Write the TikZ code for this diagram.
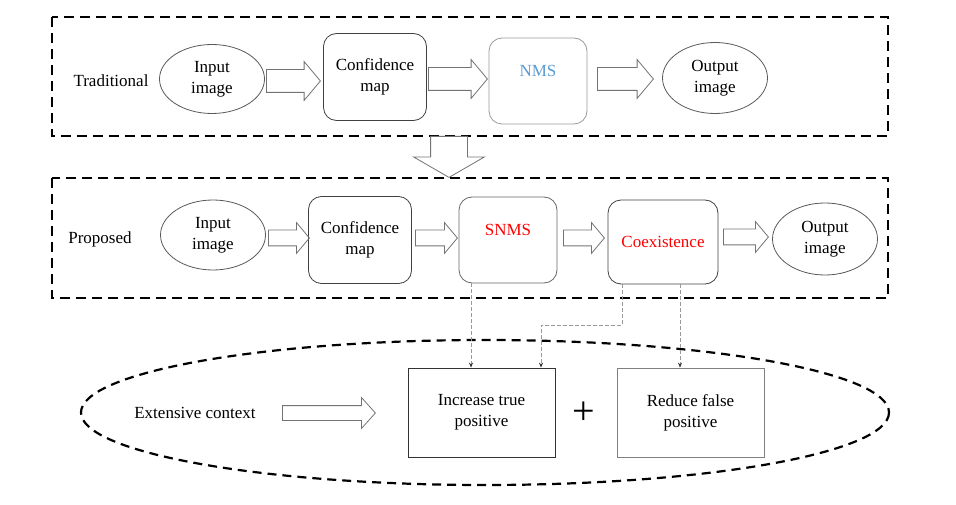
\documentclass[tikz,border=0pt]{standalone}
\usepackage{fontspec}
\setmainfont{Liberation Serif}
\usetikzlibrary{shapes.geometric,shapes.arrows,arrows.meta}

\definecolor{nmsblue}{RGB}{91,155,213}

\tikzset{
	oval/.style={ellipse,draw=black!65,line width=0.8pt,minimum width=105pt,minimum height=69pt,inner sep=0pt,align=center},
	rbox/.style={rectangle,rounded corners=13pt,draw=black!75,line width=0.8pt,minimum width=103pt,minimum height=87pt,inner sep=0pt,align=center},
	sbox/.style={rectangle,draw=black!80,line width=0.8pt,minimum width=147pt,minimum height=89pt,inner sep=0pt,align=center},
	fatarrow/.style={single arrow,draw=black!55,line width=0.8pt,inner xsep=0pt,single arrow tip angle=100,anchor=tail},
	toparrow/.style={fatarrow,inner ysep=11pt,single arrow head extend=8pt},
	midarrow/.style={fatarrow,inner ysep=7.5pt,single arrow head extend=7.5pt},
	frame/.style={draw,line width=2.6pt,dash pattern=on 10pt off 6pt},
	ring/.style={draw,line width=2.2pt,dash pattern=on 9pt off 6pt},
	link/.style={draw=black!40,line width=0.8pt,dash pattern=on 4pt off 2pt,-{Stealth[length=5pt,width=4pt,black!80]}}
}

\begin{document}
\begin{tikzpicture}[x=1pt,y=-1pt,font=\fontsize{17}{21}\selectfont]
	
	\useasboundingbox (0,0) rectangle (956,505);
	
	%%Frames
	\draw[frame] (52,17) rectangle (888,136);
	\draw[frame] (52,178) rectangle (888,298);
	\draw[ring] (485,412.5) ellipse [x radius=404, y radius=72.5];
	
	%%Traditional row
	\node (trad) at (111,81) {Traditional};
	\node[oval] (tin) at (212,79) {Input\\image};
	\node[rbox] (tconf) at (375,77) {Confidence\\map};
	\node[rbox,draw=black!40,minimum width=98pt,minimum height=86pt,text=nmsblue] (nms) at (538,81) {NMS\\~};
	\node[oval,minimum height=71pt] (tout) at (715,78) {Output\\image};
	
	\node[toparrow,minimum height=54pt] (ta1) at (266,81) {};
	\node[toparrow,minimum height=59pt] (ta2) at (428,79) {};
	\node[toparrow,minimum height=56pt] (ta3) at (597,79) {};
	
	%%Down arrow
	\node[fatarrow,shape border rotate=270,minimum height=41pt,inner xsep=18pt,inner ysep=0pt,single arrow head extend=17pt,single arrow tip angle=120] (down) at (449,136) {};
	
	%%Proposed row
	\node (prop) at (100,239) {Proposed};
	\node[oval,minimum height=70pt] (pin) at (213,235) {Input\\image};
	\node[rbox] (pconf) at (360,240) {Confidence\\map};
	\node[rbox,draw=black!60,minimum width=98pt,minimum height=86pt,text=red] (snms) at (508,240) {SNMS\\~};
	\node[rbox,minimum width=110pt,minimum height=84pt,text=red] (coex) at (663,242) {Coexistence};
	\node[oval,minimum height=72pt] (pout) at (825,239) {Output\\image};
	
	\node[midarrow,minimum height=41pt] (pa1) at (268,238) {};
	\node[midarrow,minimum height=42pt] (pa2) at (415,238) {};
	\node[midarrow,minimum height=41pt] (pa3) at (563,238) {};
	\node[midarrow,minimum height=45pt] (pa4) at (723,237) {};
	
	%%Context
	\node (ctx) at (195,413) {Extensive context};
	\node[fatarrow,minimum height=93pt,inner ysep=7pt,single arrow head extend=8pt,single arrow tip angle=96] (ca) at (282,413) {};
	\node[sbox] (inc) at (481.5,412.5) {Increase true\\positive};
	\node (plus) at (584,413) {\fontsize{40}{40}\selectfont +};
	\node[sbox,draw=black!50] (red) at (690.5,412.5) {Reduce false\\positive};
	
	%%Links
	\draw[link] ([xshift=-37pt]snms.south) -- ([xshift=-37pt]snms.south |- inc.north);
	\draw[link] ([xshift=-41pt]coex.south) -- ++(0,41) -| ([xshift=59.5pt]inc.north);
	\draw[link] ([xshift=17pt]coex.south) -- ([xshift=17pt]coex.south |- red.north);
	
\end{tikzpicture}
\end{document}
